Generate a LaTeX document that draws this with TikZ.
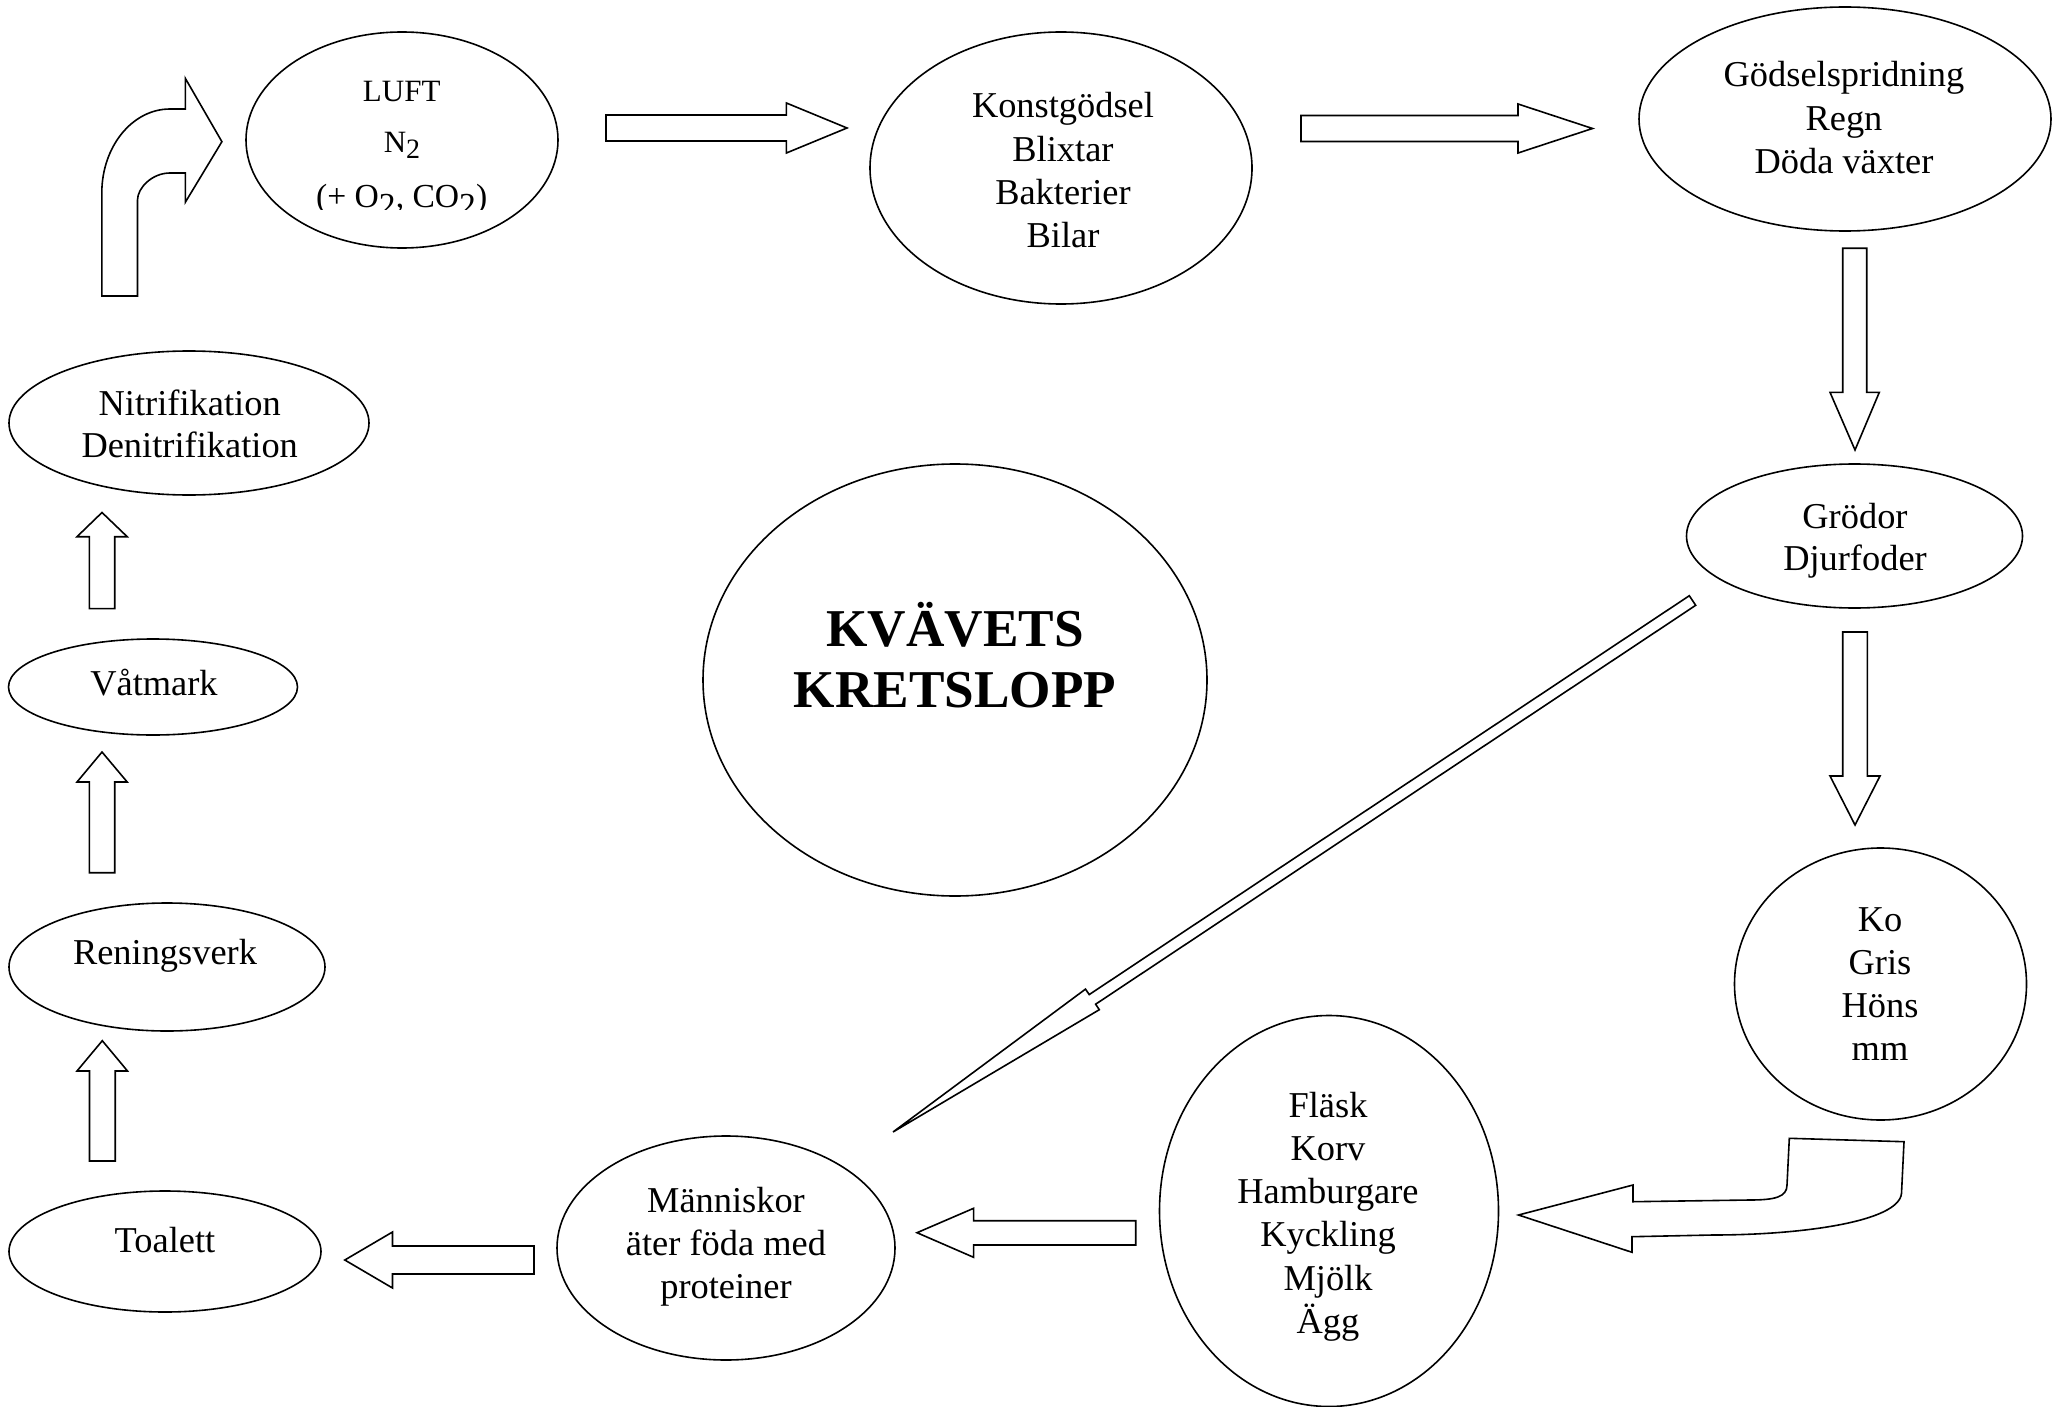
\documentclass[tikz,border=0pt]{standalone}
\usepackage{fontspec}
\setmainfont{Liberation Serif}
\usetikzlibrary{shapes.geometric}
\newcommand{\lsub}[1]{\raisebox{-3pt}{\fontsize{14}{14}\selectfont #1}}
\newcommand{\csub}[1]{\raisebox{-4.5pt}{#1}}
\begin{document}
\begin{tikzpicture}[x=0.5pt,y=-0.5pt,
  ell/.style={draw, ellipse, line width=0.8pt, inner sep=0pt, outer sep=0pt},
  lbl/.style={inner sep=0pt, anchor=base, font=\fontsize{18.2}{21.65}\selectfont},
  small/.style={inner sep=0pt, anchor=base, font=\fontsize{15.5}{18}\selectfont},
  title/.style={inner sep=0pt, anchor=base, font=\fontsize{26.6}{30}\selectfont\bfseries},
  blk/.style={draw, line width=0.8pt, fill=white}]
\useasboundingbox (0,0) rectangle (2061,1407);

% ellipses
\node[ell, minimum width=156pt, minimum height=108pt] (luft) at (402,140) {};
\node[ell, minimum width=191pt, minimum height=136pt] (konst) at (1061,168) {};
\node[ell, minimum width=206pt, minimum height=112pt] (godsel) at (1845,119) {};
\node[ell, minimum width=168pt, minimum height=72pt] (grodor) at (1854.5,536) {};
\node[ell, minimum width=146pt, minimum height=136pt] (ko) at (1880.5,984) {};
\node[ell, minimum width=169.5pt, minimum height=195.5pt] (flask) at (1329,1211) {};
\node[ell, minimum width=169pt, minimum height=112pt] (manniskor) at (726,1248) {};
\node[ell, minimum width=156pt, minimum height=60.5pt] (toalett) at (165,1251.5) {};
\node[ell, minimum width=158pt, minimum height=64pt] (rening) at (167,967) {};
\node[ell, minimum width=144.5pt, minimum height=48pt] (vatmark) at (153,687) {};
\node[ell, minimum width=180pt, minimum height=72pt] (nitri) at (189,423) {};
\node[ell, minimum width=252pt, minimum height=216pt] (kvavets) at (955,680) {};

% texts
\node[small] (luft-1) at (401.7,102) {LUFT};
\node[small] (luft-2) at (402,153) {N\lsub{2}};
\begin{scope}
  \clip (240,0) rectangle (560,209.5);
  \node[small, font=\fontsize{16.8}{19}\selectfont] (luft-3) at (401.7,207.5) {(+ O\csub{2}, CO\csub{2})};
\end{scope}
\foreach \t [count=\i from 0] in {Konstgödsel,Blixtar,Bakterier,Bilar}
  \node[lbl] (konst-\i) at (1063,{118+43.3*\i}) {\t};
\foreach \t [count=\i from 0] in {Gödselspridning,Regn,Döda växter}
  \node[lbl] (godsel-\i) at (1844,{87+43.3*\i}) {\t};
\foreach \t [count=\i from 0] in {Grödor,Djurfoder}
  \node[lbl] (grodor-\i) at (1855,{528+42.5*\i}) {\t};
\foreach \t [count=\i from 0] in {Ko,Gris,Höns,mm}
  \node[lbl] (ko-\i) at (1880,{931+43.2*\i}) {\t};
\foreach \t [count=\i from 0] in {Fläsk,Korv,Hamburgare,Kyckling,Mjölk,Ägg}
  \node[lbl] (flask-\i) at (1328,{1117+43.3*\i}) {\t};
\foreach \t [count=\i from 0] in {Människor,äter föda med,proteiner}
  \node[lbl] (manniskor-\i) at (726,{1212+43.3*\i}) {\t};
\node[lbl] (toalett-0) at (165,1252) {Toalett};
\node[lbl] (rening-0) at (165,964) {Reningsverk};
\node[lbl] (vatmark-0) at (154,695.5) {Våtmark};
\foreach \t [count=\i from 0] in {Nitrifikation,Denitrifikation}
  \node[lbl] (nitri-\i) at (189.7,{415+42.4*\i}) {\t};
\node[title] (kvavets-0) at (955,646) {KVÄVETS};
\node[title] (kvavets-1) at (955,707) {KRETSLOPP};

% block arrows
% LUFT -> Konstgödsel
\draw[blk] (606,115) -- (786.4,115) -- (786.4,103) -- (847,128) -- (786.4,153) -- (786.4,141) -- (606,141) -- cycle;
% Konstgödsel -> Gödselspridning
\draw[blk] (1301,115.5) -- (1518,115.5) -- (1518,104) -- (1592.5,128.5) -- (1518,153) -- (1518,141.5) -- (1301,141.5) -- cycle;
% Gödselspridning -> Grödor
\draw[blk] (1842.7,248.3) -- (1866.7,248.3) -- (1866.7,392.3) -- (1879.3,392.3) -- (1855,450) -- (1830,392.3) -- (1842.7,392.3) -- cycle;
% Grödor -> Ko
\draw[blk] (1842.7,632) -- (1867.3,632) -- (1867.3,776) -- (1880,776) -- (1855,825) -- (1830,776) -- (1842.7,776) -- cycle;
% Ko -> Fläsk (bent)
\draw[blk] (1789.3,1138.3) -- (1904,1141.7) -- (1901.5,1193.3)
  .. controls (1899,1222) and (1800,1235) .. (1712.7,1235) -- (1632,1236.7)
  -- (1632,1252.3) -- (1518.5,1215) -- (1633,1185) -- (1633,1201.7) -- (1749.5,1200)
  .. controls (1775,1200) and (1787,1197) .. (1787,1185) -- cycle;
% Fläsk -> Människor
\draw[blk] (1135.7,1220.7) -- (973.6,1220.7) -- (973.6,1208.3) -- (917,1232.7) -- (973.6,1257.3) -- (973.6,1245) -- (1135.7,1245) -- cycle;
% Människor -> Toalett
\draw[blk] (534,1246) -- (392.5,1246) -- (392.5,1232) -- (344.8,1260) -- (392.5,1288) -- (392.5,1274) -- (534,1274) -- cycle;
% Toalett -> Reningsverk
\draw[blk] (89.5,1161) -- (89.5,1071) -- (77,1071) -- (102.3,1040.7) -- (127.5,1071) -- (115.2,1071) -- (115.2,1161) -- cycle;
% Reningsverk -> Våtmark
\draw[blk] (89.3,872.7) -- (89.3,782) -- (77,782) -- (102,752) -- (127.2,782) -- (114.7,782) -- (114.7,872.7) -- cycle;
% Våtmark -> Nitrifikation
\draw[blk] (89.3,608.6) -- (89.3,536.7) -- (77,536.7) -- (102,512.5) -- (127.2,536.7) -- (114.7,536.7) -- (114.7,608.6) -- cycle;
% Nitrifikation -> LUFT (bent)
\draw[blk] (101.8,296) -- (101.8,193) .. controls (101.8,146.6) and (132.3,109) .. (170,109)
  -- (185.3,109) -- (185.3,78.3) -- (221.9,141.7) -- (185.3,202.3) -- (185.3,173) -- (170,173)
  .. controls (152,173) and (137.5,188) .. (137.5,200) -- (137.5,296) -- cycle;
% Grödor -> Människor (diagonal)
\draw[blk] (1689.3,595.7) -- (1089.2,994.6) -- (1085.5,989.1) -- (893,1132) -- (1099.3,1009.7) -- (1095.6,1004.2) -- (1695.7,605.3) -- cycle;
\end{tikzpicture}
\end{document}
